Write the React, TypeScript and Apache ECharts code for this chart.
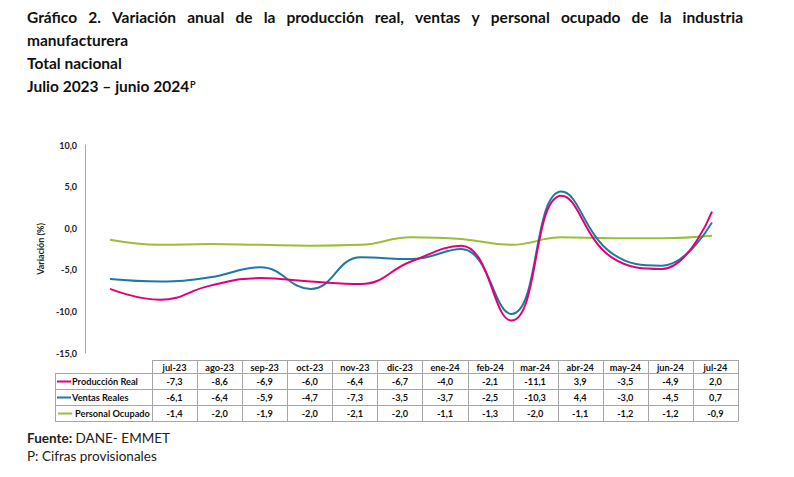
import React, { useEffect, useRef } from "react";
import * as echarts from "echarts";

const months = ["jul-23", "ago-23", "sep-23", "oct-23", "nov-23", "dic-23", "ene-24", "feb-24", "mar-24", "abr-24", "may-24", "jun-24", "jul-24"];
const produccionReal = [-7.3, -8.6, -6.9, -6.0, -6.4, -6.7, -4.0, -2.1, -11.1, 3.9, -3.5, -4.9, 2.0];
const ventasReales = [-6.1, -6.4, -5.9, -4.7, -7.3, -3.5, -3.7, -2.5, -10.3, 4.4, -3.0, -4.5, 0.7];
const personalOcupado = [-1.4, -2.0, -1.9, -2.0, -2.1, -2.0, -1.1, -1.3, -2.0, -1.1, -1.2, -1.2, -0.9];
const seriesNames = ["Producción Real", "Ventas Reales", "Personal Ocupado"];
const seriesColors = ["#E2007A", "#1F78A4", "#9DBE34"];
const yMin = -15;
const yMax = 10;
const yStep = 5;

const titleLine1 = "Gráfico 2. Variación anual de la producción real, ventas y personal ocupado de la industria";
const titleLine2 = "manufacturera";
const titleLine3 = "Total nacional";
const titleLine4 = "Julio 2023 – junio 2024";
const titleSup = "P";
const sourceBold = "Fuente:";
const sourceText = " DANE- EMMET";
const noteText = "P: Cifras provisionales";

const fmt = (v: number) => v.toFixed(1).replace(".", ",");

let measureCtx: CanvasRenderingContext2D | null = null;
function measure(text: string, font: string): number {
  if (!measureCtx) measureCtx = document.createElement("canvas").getContext("2d");
  if (!measureCtx) return text.length * 7;
  measureCtx.font = font;
  return measureCtx.measureText(text).width;
}

export default function App() {
  const ref = useRef<HTMLDivElement>(null);
  useEffect(() => {
    document.body.style.margin = "0";
    if (!ref.current) return;
    const chart = echarts.init(ref.current, undefined, { renderer: "svg" });

    const titleFamily = "Lato";
    const titleSize = 15.5;
    const titleFont = `bold ${titleSize}px ${titleFamily}`;
    const textColor = "#111111";
    const graphics: any[] = [];

    // justified first title line
    const words = titleLine1.split(" ");
    const tLeft = 27;
    const tRight = 743;
    const widths = words.map((w) => measure(w, titleFont));
    const total = widths.reduce((a, b) => a + b, 0);
    const gap = (tRight - tLeft - total) / (words.length - 1);
    let cx = tLeft;
    words.forEach((w, i) => {
      graphics.push({
        type: "text", x: cx, y: 17,
        style: { text: w, font: titleFont, fill: textColor, align: "left", verticalAlign: "middle" },
      });
      cx += widths[i] + gap;
    });
    [titleLine2, titleLine3].forEach((t, i) => {
      graphics.push({
        type: "text", x: tLeft, y: 40 + i * 23,
        style: { text: t, font: titleFont, fill: textColor, align: "left", verticalAlign: "middle" },
      });
    });
    graphics.push({
      type: "text", x: tLeft, y: 86,
      style: { text: titleLine4, font: titleFont, fill: textColor, align: "left", verticalAlign: "middle" },
    });
    graphics.push({
      type: "text", x: tLeft + measure(titleLine4, titleFont) + 1, y: 84,
      style: { text: titleSup, font: `bold 9px ${titleFamily}`, fill: textColor, align: "left", verticalAlign: "middle" },
    });

    // table
    const tblFont = `bold 9.2px Lato`;
    const border = "#A6A6A6";
    const labelLeft = 55;
    const colLeft = 152;
    const colRight = 738;
    const colW = (colRight - colLeft) / months.length;
    const headTop = 360;
    const headBottom = 373;
    const rowH = 16;
    const rows = [produccionReal, ventasReales, personalOcupado];
    const tableBottom = headBottom + rowH * rows.length;
    const ln = (x1: number, y1: number, x2: number, y2: number) =>
      graphics.push({
        type: "line",
        shape: { x1, y1, x2, y2 },
        style: { stroke: border, lineWidth: 1 },
        silent: true,
      });
    ln(colLeft, headTop + 0.5, colRight, headTop + 0.5);
    for (let r = 0; r <= rows.length; r++) {
      const y = headBottom + r * rowH + 0.5;
      ln(labelLeft, y, colRight, y);
    }
    ln(labelLeft + 0.5, headBottom, labelLeft + 0.5, tableBottom + 0.5);
    for (let c = 0; c <= months.length; c++) {
      const x = Math.round(colLeft + c * colW) + 0.5;
      ln(x, headTop, x, tableBottom + 0.5);
    }
    months.forEach((m, c) => {
      graphics.push({
        type: "text", x: colLeft + (c + 0.5) * colW, y: (headTop + headBottom) / 2 + 1,
        style: { text: m, font: tblFont, fill: textColor, align: "center", verticalAlign: "middle" },
      });
    });
    rows.forEach((vals, r) => {
      const yc = headBottom + (r + 0.5) * rowH + 0.5;
      const swStart = r === 2 ? 58 : 57;
      const swEnd = r === 2 ? 72 : 71;
      graphics.push({
        type: "line",
        shape: { x1: swStart, y1: yc, x2: swEnd, y2: yc },
        style: { stroke: seriesColors[r], lineWidth: 2 },
      });
      graphics.push({
        type: "text", x: r === 2 ? 75 : 72, y: yc,
        style: { text: seriesNames[r], font: tblFont, fill: textColor, align: "left", verticalAlign: "middle" },
      });
      vals.forEach((v, c) => {
        graphics.push({
          type: "text", x: colLeft + (c + 0.5) * colW, y: yc,
          style: { text: fmt(v), font: tblFont, fill: textColor, align: "center", verticalAlign: "middle" },
        });
      });
    });

    // footer
    graphics.push({
      type: "text", x: 27, y: 438,
      style: {
        text: `{b|${sourceBold}}{n|${sourceText}}`,
        fill: "#222222",
        align: "left",
        verticalAlign: "middle",
        rich: {
          b: { fontFamily: "Lato", fontWeight: "bold", fontSize: 13.5, fill: "#222222" },
          n: { fontFamily: "Lato", fontSize: 13.5, fill: "#222222" },
        },
      },
    });
    graphics.push({
      type: "text", x: 27, y: 456,
      style: { text: noteText, font: "13.5px Lato", fill: "#222222", align: "left", verticalAlign: "middle" },
    });

    const mkSeries = (name: string, data: number[], color: string) => ({
      name,
      type: "line",
      data,
      smooth: 0.45,
      symbol: "none",
      lineStyle: { color, width: 2 },
      itemStyle: { color },
      z: 3,
    });

    chart.setOption({
      animation: false,
      backgroundColor: "#ffffff",
      grid: { left: 110, right: 82, top: 145, bottom: 124 },
      xAxis: {
        type: "category",
        data: months,
        boundaryGap: false,
        show: false,
      },
      yAxis: {
        type: "value",
        min: yMin,
        max: yMax,
        interval: yStep,
        offset: 25,
        axisLine: { show: true, lineStyle: { color: "#A6A6A6", width: 1 } },
        axisTick: { show: false },
        splitLine: { show: false },
        axisLabel: {
          formatter: (v: number) => fmt(v),
          fontFamily: "Lato",
          fontWeight: "bold",
          fontSize: 9,
          color: "#222222",
          margin: 8,
        },
        name: "Variación (%)",
        nameLocation: "middle",
        nameRotate: 90,
        nameGap: 40,
        nameTextStyle: { fontFamily: "Lato", fontWeight: "bold", fontSize: 9, color: "#222222" },
      },
      series: [
        mkSeries(seriesNames[2], personalOcupado, seriesColors[2]),
        mkSeries(seriesNames[1], ventasReales, seriesColors[1]),
        mkSeries(seriesNames[0], produccionReal, seriesColors[0]),
      ],
      graphic: graphics,
    });
    return () => chart.dispose();
  }, []);
  return <div ref={ref} style={{ width: 794, height: 477 }} />;
}
